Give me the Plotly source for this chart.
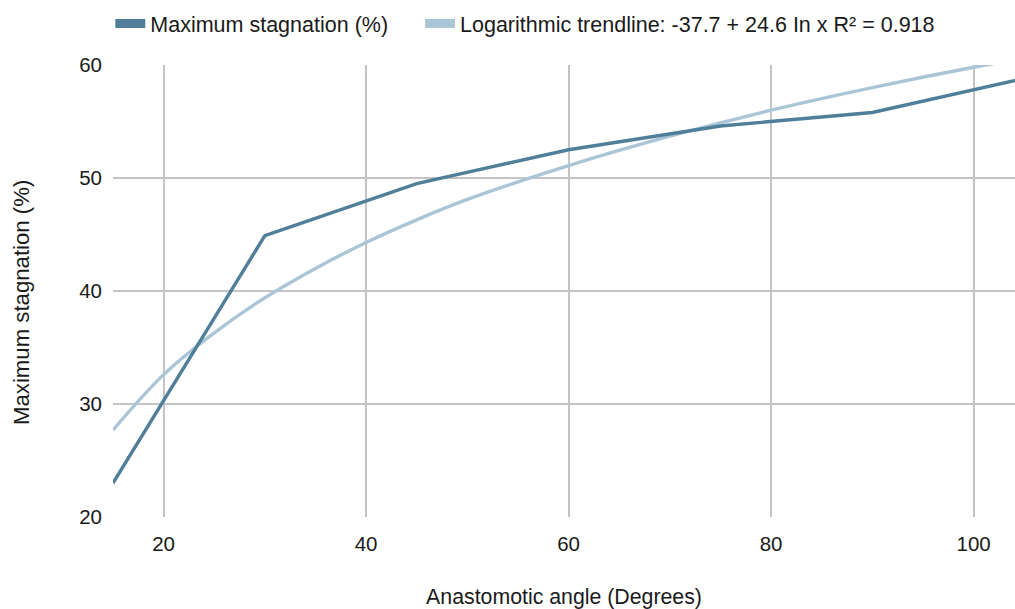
import plotly.graph_objects as go

# Data
angle = [15, 30, 45, 60, 75, 90, 105]
stagnation = [23.0, 44.9, 49.5, 52.5, 54.6, 55.8, 58.8]

trend_x = [15, 20, 25, 30, 35, 40, 45, 50, 60, 70, 80, 90, 100, 105]
trend_y = [27.7, 32.6, 36.3, 39.4, 42.0, 44.3, 46.3, 48.1, 51.1, 53.7, 56.0, 58.0, 59.8, 60.6]

x_ticks = [20, 40, 60, 80, 100]
y_ticks = [20, 30, 40, 50, 60]

DARK = "#4f7f99"
LIGHT = "#aac6d6"
FONT = "Liberation Sans, Arial, sans-serif"

fig = go.Figure()
fig.add_trace(go.Scatter(x=trend_x, y=trend_y, mode="lines", line=dict(color=LIGHT, width=3.4, shape="spline"),
                         showlegend=False, hoverinfo="skip"))
fig.add_trace(go.Scatter(x=angle, y=stagnation, mode="lines", line=dict(color=DARK, width=3.4),
                         showlegend=False))
# legend entries
fig.add_trace(go.Scatter(x=[None], y=[None], mode="lines", line=dict(color=DARK, width=9),
                         name="Maximum stagnation (%)", legend="legend"))
fig.add_trace(go.Scatter(x=[None], y=[None], mode="lines", line=dict(color=LIGHT, width=9),
                         name="Logarithmic trendline: -37.7 + 24.6 In x R² = 0.918", legend="legend2"))

leg_common = dict(orientation="h", yanchor="middle", y=1.092, xanchor="left",
                  font=dict(size=21.5, color="#1a1a1a"), bgcolor="rgba(0,0,0,0)")

fig.update_layout(
    width=1015, height=609,
    margin=dict(l=113, r=0, t=65, b=92),
    paper_bgcolor="white", plot_bgcolor="white",
    font=dict(family=FONT, size=20, color="#1a1a1a"),
    legend=dict(x=-0.003, **leg_common),
    legend2=dict(x=0.3404, **leg_common),
    xaxis=dict(range=[15, 104.09], tickvals=x_ticks, showgrid=True, gridcolor="#c4c4c4", gridwidth=1.6,
               zeroline=False, showline=False, ticks="", ticklabelstandoff=12,
               tickfont=dict(size=20.5),
               title=dict(text="Anastomotic angle (Degrees)", font=dict(size=21.3), standoff=37)),
    yaxis=dict(range=[20, 60], tickvals=y_ticks, showgrid=True, gridcolor="#c4c4c4", gridwidth=1.6,
               zeroline=False, showline=False, ticks="", ticklabelstandoff=10,
               tickfont=dict(size=20.5)),
    annotations=[dict(text="Maximum stagnation (%)", textangle=-90, xref="paper", yref="paper",
                      x=-0.1014, y=0.4746, xanchor="center", yanchor="middle", showarrow=False,
                      font=dict(size=22.2, color="#1a1a1a"))],
)

fig.write_html("out.html")
